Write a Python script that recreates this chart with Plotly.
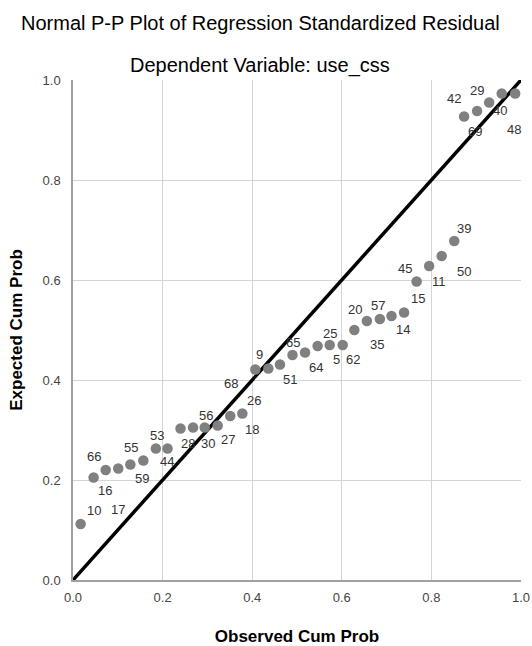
import plotly.graph_objects as go

# Observed / expected cumulative probabilities
observed = [0.017, 0.046, 0.073, 0.101, 0.128, 0.157, 0.185, 0.211, 0.240, 0.268,
            0.294, 0.323, 0.351, 0.378, 0.407, 0.436, 0.462, 0.490, 0.518, 0.546,
            0.573, 0.602, 0.628, 0.656, 0.685, 0.711, 0.739, 0.767, 0.795, 0.823,
            0.851, 0.873, 0.902, 0.929, 0.957, 0.987]
expected = [0.112, 0.205, 0.220, 0.223, 0.231, 0.239, 0.263, 0.263, 0.303, 0.305,
            0.305, 0.309, 0.328, 0.333, 0.421, 0.423, 0.431, 0.450, 0.455, 0.468,
            0.470, 0.470, 0.500, 0.518, 0.522, 0.528, 0.535, 0.597, 0.628, 0.648,
            0.678, 0.927, 0.938, 0.955, 0.973, 0.973]

# Case labels: text and index of the point they belong to
label_text = ["10", "66", "16", "17", "55", "59", "53", "44", "28", "30", "27", "56",
              "18", "26", "68", "9", "51", "65", "64", "25", "5", "62", "35", "20",
              "57", "14", "15", "45", "11", "50", "39", "42", "69", "29", "40", "48"]
label_point = [0, 1, 1, 3, 4, 5, 6, 7, 9, 10, 11, 10,
               13, 13, 14, 14, 16, 17, 19, 20, 20, 21, 23, 22,
               24, 26, 27, 27, 28, 29, 30, 31, 32, 32, 34, 35]
label_dx = [13, 0, 11, 0, 1, -1, 1, -1, -5, 3, 10, 1,
            10, 12, -24, 4, 10, 0, -2, 0, 7, 10, 10, 1,
            -2, -1, 1, -12, 10, 22, 10, -10, -2, 0, -2, -1]
label_dy = [14, 21, -13, -41, 17, -18, 13, -13, -16, -16, -14, 12,
            -16, 13, -14, 15, -15, 13, -21, 12, -14, -14, -23, 21,
            14, -17, -17, 13, -15, -15, 13, 18, -20, 21, -17, -36]

ticks = [0.0, 0.2, 0.4, 0.6, 0.8, 1.0]

FONT = "Liberation Sans, Arial, sans-serif"

fig = go.Figure()
fig.add_trace(go.Scatter(x=[0, 1], y=[0, 1], mode="lines",
                         line=dict(color="black", width=3.5),
                         hoverinfo="skip", showlegend=False, cliponaxis=False))
fig.add_trace(go.Scatter(x=observed, y=expected, mode="markers",
                         marker=dict(color="#808080", size=10.5),
                         showlegend=False, cliponaxis=False))

for t, i, dx, dy in zip(label_text, label_point, label_dx, label_dy):
    fig.add_annotation(x=observed[i], y=expected[i], text=t, showarrow=False,
                       xshift=dx, yshift=dy,
                       font=dict(family=FONT, size=13, color="#333333"))

fig.add_annotation(text="Normal P-P Plot of Regression Standardized Residual",
                   xref="paper", yref="paper", x=0.419, y=1.0, yshift=57,
                   showarrow=False, yanchor="middle",
                   font=dict(family=FONT, size=20, color="#000000"))
fig.add_annotation(text="Dependent Variable: use_css",
                   xref="paper", yref="paper", x=0.417, y=1.0, yshift=15,
                   showarrow=False, yanchor="middle",
                   font=dict(family=FONT, size=20, color="#000000"))

axis_common = dict(range=[0, 1], tickvals=ticks, tickformat=".1f",
                   showgrid=True, gridcolor="#d4d4d4", gridwidth=1,
                   zeroline=False, showline=True, linecolor="#a0a0a0", linewidth=1.5,
                   ticks="", tickfont=dict(family=FONT, size=13, color="#444444"),
                   fixedrange=True, automargin=False)

fig.update_layout(
    width=532, height=646,
    margin=dict(l=73, r=11, t=80, b=66),
    paper_bgcolor="white", plot_bgcolor="white",
    font=dict(family=FONT),
    xaxis=dict(**axis_common, ticklabelstandoff=5,
               title=dict(text="<b>Observed Cum Prob</b>",
                          font=dict(family=FONT, size=17, color="#000000"),
                          standoff=26)),
    yaxis=dict(**axis_common, ticklabelstandoff=8,
               title=dict(text="<b>Expected Cum Prob</b>",
                          font=dict(family=FONT, size=17, color="#000000"),
                          standoff=16)),
)

fig.write_html("out.html")
